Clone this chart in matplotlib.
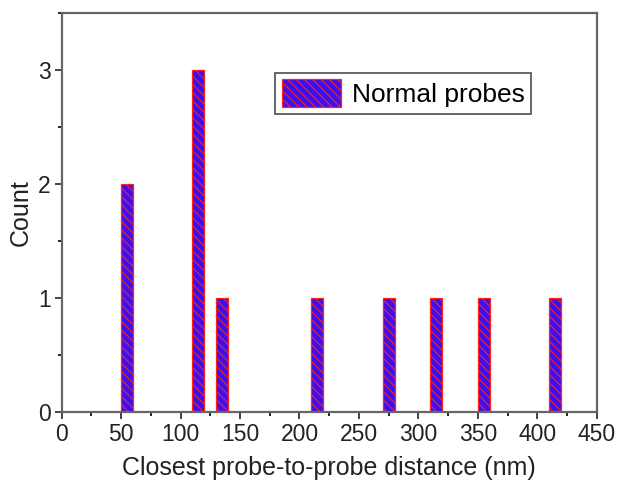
import numpy as np
import matplotlib
matplotlib.use("Agg")
import matplotlib.pyplot as plt
from matplotlib.ticker import MultipleLocator

plt.rcParams['font.family'] = ['Liberation Sans', 'DejaVu Sans']
plt.rcParams['hatch.linewidth'] = 0.8

# bin edges (left) and counts
bin_left = [50, 110, 130, 210, 270, 310, 350, 410]
counts = [2, 3, 1, 1, 1, 1, 1, 1]
bin_width = 10
x_ticks = [0, 50, 100, 150, 200, 250, 300, 350, 400, 450]
y_ticks = [0, 1, 2, 3]

fig = plt.figure(figsize=(6.18, 4.83), dpi=100)
ax = fig.add_axes([0.0998, 0.147, 0.8657, 0.826])

ax.bar(bin_left, counts, width=bin_width, align='edge',
       facecolor='#3a10f0', edgecolor='#ff2020', linewidth=0.9,
       hatch='\\\\\\\\', label='Normal probes')

ax.set_xlim(0, 450)
ax.set_ylim(0, 3.5)
ax.set_xticks(x_ticks)
ax.set_yticks(y_ticks)
ax.xaxis.set_minor_locator(MultipleLocator(25))
ax.yaxis.set_minor_locator(MultipleLocator(0.5))
ax.tick_params(which='major', direction='out', length=5, width=1.2, labelsize=16.5,
               colors='#222222', pad=3)
ax.tick_params(which='minor', direction='out', length=3, width=1.2)
for s in ax.spines.values():
    s.set_color('#666666')
    s.set_linewidth(1.6)

ax.set_xlabel('Closest probe-to-probe distance (nm)', fontsize=18, color='#222222', labelpad=7)
ax.set_ylabel('Count', fontsize=18, color='#222222', labelpad=4)

leg = ax.legend(loc='upper left', bbox_to_anchor=(0.399, 0.85), fontsize=19,
                fancybox=False, framealpha=1, edgecolor='#666666',
                handlelength=2.25, handleheight=1.2, borderpad=0.25, handletextpad=0.4,
                borderaxespad=0)
leg.get_frame().set_linewidth(1.4)

fig.savefig('out.png', dpi=100)
